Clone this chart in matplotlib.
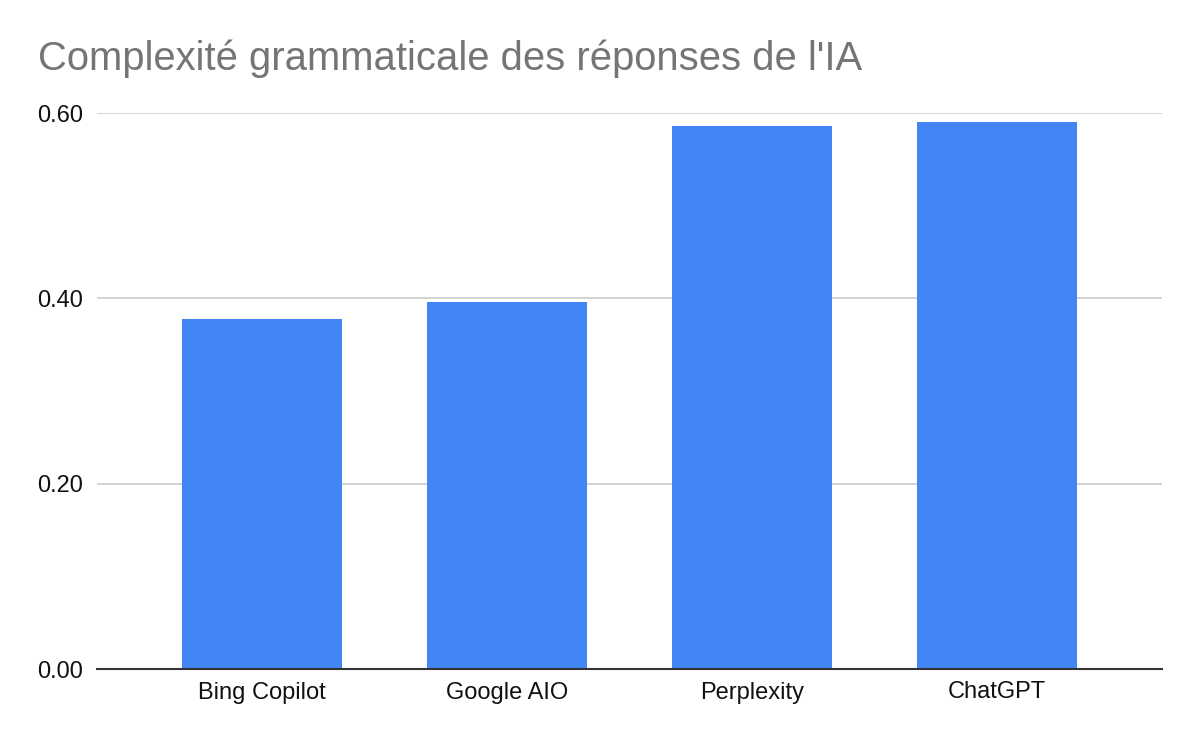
import numpy as np
from matplotlib import pyplot as plt

# data
categories = ['Bing Copilot', 'Google AIO', 'Perplexity', 'ChatGPT']
values = [0.378, 0.396, 0.586, 0.590]
yticks = [0.0, 0.2, 0.4, 0.6]
ytick_labels = ['0.00', '0.20', '0.40', '0.60']

plt.rcParams['font.family'] = ['Liberation Sans', 'DejaVu Sans']

fig = plt.figure(figsize=(12, 7.42), dpi=100)
ax = fig.add_axes([97/1200, 1-669/742, (1162-97)/1200, (669-113)/742])

x = np.arange(len(categories))
ax.bar(x, values, width=0.65, color='#4285f4', zorder=3)

ax.set_xlim(-0.673, len(categories)-1+0.673)
ax.set_ylim(0, 0.6)
ax.set_yticks(yticks)
ax.set_yticklabels(ytick_labels)
ax.set_xticks(x)
ax.set_xticklabels(categories)
ax.grid(axis='y', color='#cccccc', linewidth=1.2, zorder=0)
ax.tick_params(axis='y', length=0, pad=10, labelsize=17, labelcolor='#111111')
ax.tick_params(axis='x', length=0, pad=9, labelsize=17, labelcolor='#111111')

for s in ['top', 'right', 'left']:
    ax.spines[s].set_visible(False)
ax.spines['bottom'].set_color('#333333')
ax.spines['bottom'].set_linewidth(1.5)
ax.spines['bottom'].set_zorder(4)

fig.text(38/1200, 1-70/742, "Complexité grammaticale des réponses de l'IA",
         fontsize=28.8, color='#757575', va='baseline', ha='left')

plt.savefig('out.png', dpi=100)
